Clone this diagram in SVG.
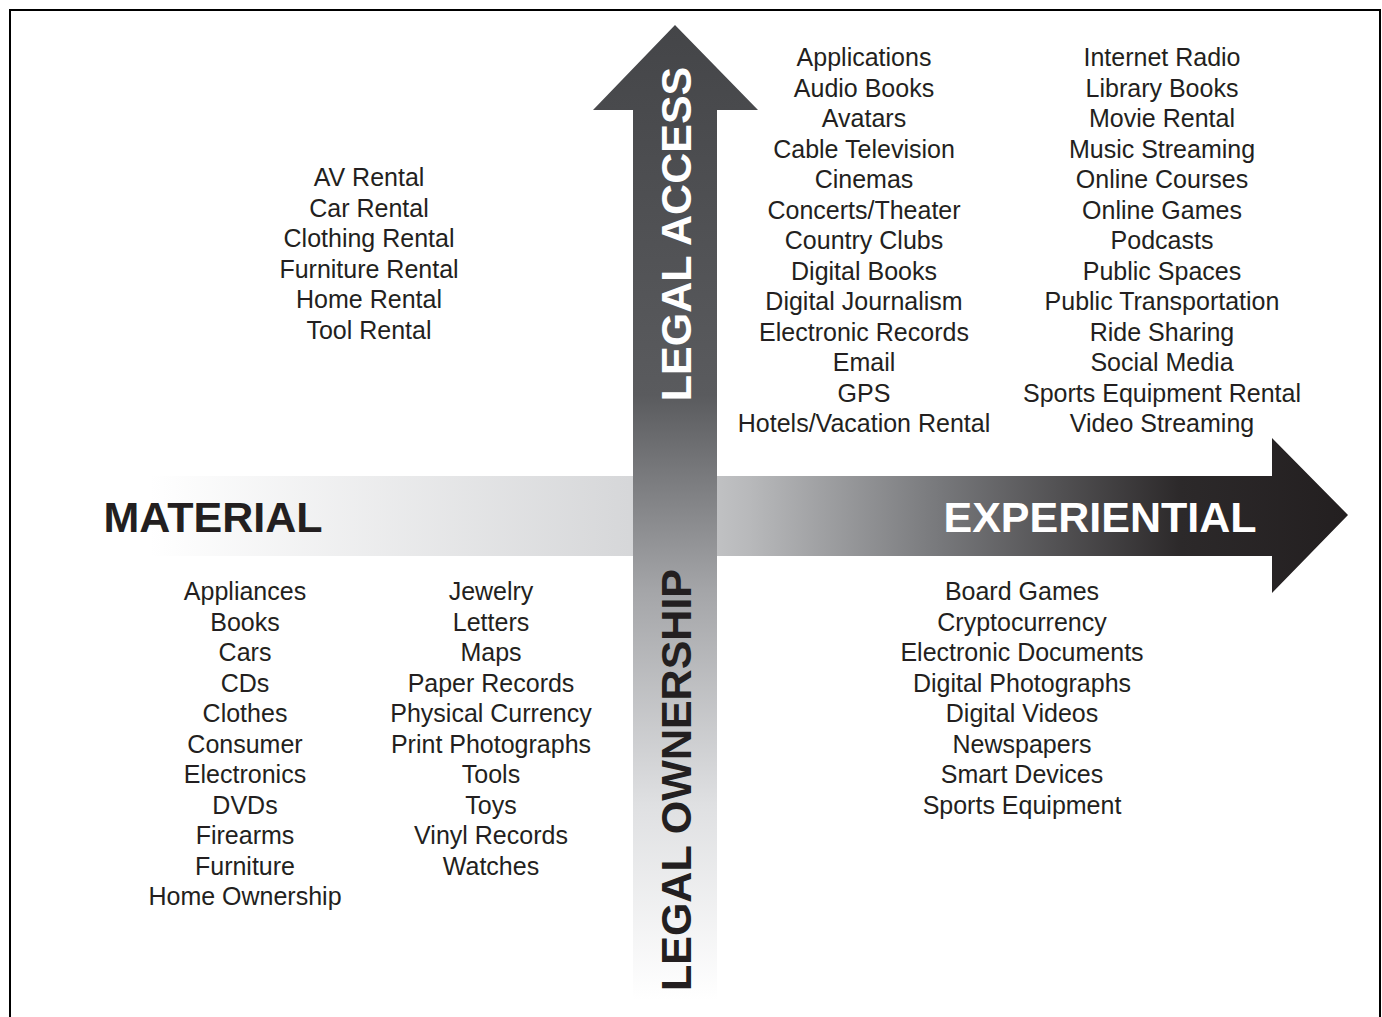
<svg xmlns="http://www.w3.org/2000/svg" width="1382" height="1017" viewBox="0 0 1382 1017">
<style>
.t{font-family:"Liberation Sans",Arial,sans-serif;font-size:25px;fill:#231f20;text-anchor:middle}
.b{font-family:"Liberation Sans",Arial,sans-serif;font-size:43px;font-weight:bold;text-anchor:middle}
</style>
<defs>
<linearGradient id="gh" x1="150" y1="0" x2="1348" y2="0" gradientUnits="userSpaceOnUse">
<stop offset="0" stop-color="#ffffff"/>
<stop offset="0.4" stop-color="#d6d7d9"/>
<stop offset="0.5" stop-color="#b8b9bb"/>
<stop offset="0.66" stop-color="#77787b"/>
<stop offset="0.86" stop-color="#2c292a"/>
<stop offset="1" stop-color="#231f20"/>
</linearGradient>
<linearGradient id="gv" x1="0" y1="25" x2="0" y2="1000" gradientUnits="userSpaceOnUse">
<stop offset="0" stop-color="#444548"/>
<stop offset="0.38" stop-color="#5a5b5e"/>
<stop offset="0.47" stop-color="#7c7d80"/>
<stop offset="0.58" stop-color="#a4a5a8"/>
<stop offset="0.8" stop-color="#dfe0e2"/>
<stop offset="1" stop-color="#ffffff"/>
</linearGradient>
</defs>
<rect x="10" y="10" width="1370" height="1020" fill="#fff" stroke="#000" stroke-width="2"/>
<g id="connectors">
<polygon id="axis-h" points="150,476 1272,476 1272,438 1348,515 1272,593 1272,556 150,556" fill="url(#gh)"/>
<polygon id="axis-v" points="675,25 758,110 717,110 717,1000 633,1000 633,110 593,110" fill="url(#gv)"/>
</g>
<g id="label-material"><text class="b" x="213" y="532" fill="#231f20">MATERIAL</text></g>
<g id="label-experiential"><text class="b" x="1100" y="532" fill="#ffffff">EXPERIENTIAL</text></g>
<g id="label-access"><text class="b" transform="translate(691,234) rotate(-90)" x="0" y="0" fill="#ffffff">LEGAL ACCESS</text></g>
<g id="label-ownership"><text class="b" transform="translate(691,780) rotate(-90)" x="0" y="0" fill="#231f20">LEGAL OWNERSHIP</text></g>
<g id="access-material">
<text class="t" x="369" y="186">AV Rental</text>
<text class="t" x="369" y="216.5">Car Rental</text>
<text class="t" x="369" y="247">Clothing Rental</text>
<text class="t" x="369" y="277.5">Furniture Rental</text>
<text class="t" x="369" y="308">Home Rental</text>
<text class="t" x="369" y="338.5">Tool Rental</text>
</g>
<g id="access-experiential-1">
<text class="t" x="864" y="66">Applications</text>
<text class="t" x="864" y="96.5">Audio Books</text>
<text class="t" x="864" y="127">Avatars</text>
<text class="t" x="864" y="157.5">Cable Television</text>
<text class="t" x="864" y="188">Cinemas</text>
<text class="t" x="864" y="218.5">Concerts/Theater</text>
<text class="t" x="864" y="249">Country Clubs</text>
<text class="t" x="864" y="279.5">Digital Books</text>
<text class="t" x="864" y="310">Digital Journalism</text>
<text class="t" x="864" y="340.5">Electronic Records</text>
<text class="t" x="864" y="371">Email</text>
<text class="t" x="864" y="401.5">GPS</text>
<text class="t" x="864" y="432">Hotels/Vacation Rental</text>
</g>
<g id="access-experiential-2">
<text class="t" x="1162" y="66">Internet Radio</text>
<text class="t" x="1162" y="96.5">Library Books</text>
<text class="t" x="1162" y="127">Movie Rental</text>
<text class="t" x="1162" y="157.5">Music Streaming</text>
<text class="t" x="1162" y="188">Online Courses</text>
<text class="t" x="1162" y="218.5">Online Games</text>
<text class="t" x="1162" y="249">Podcasts</text>
<text class="t" x="1162" y="279.5">Public Spaces</text>
<text class="t" x="1162" y="310">Public Transportation</text>
<text class="t" x="1162" y="340.5">Ride Sharing</text>
<text class="t" x="1162" y="371">Social Media</text>
<text class="t" x="1162" y="401.5">Sports Equipment Rental</text>
<text class="t" x="1162" y="432">Video Streaming</text>
</g>
<g id="ownership-material-1">
<text class="t" x="245" y="600">Appliances</text>
<text class="t" x="245" y="630.5">Books</text>
<text class="t" x="245" y="661">Cars</text>
<text class="t" x="245" y="691.5">CDs</text>
<text class="t" x="245" y="722">Clothes</text>
<text class="t" x="245" y="752.5">Consumer</text>
<text class="t" x="245" y="783">Electronics</text>
<text class="t" x="245" y="813.5">DVDs</text>
<text class="t" x="245" y="844">Firearms</text>
<text class="t" x="245" y="874.5">Furniture</text>
<text class="t" x="245" y="905">Home Ownership</text>
</g>
<g id="ownership-material-2">
<text class="t" x="491" y="600">Jewelry</text>
<text class="t" x="491" y="630.5">Letters</text>
<text class="t" x="491" y="661">Maps</text>
<text class="t" x="491" y="691.5">Paper Records</text>
<text class="t" x="491" y="722">Physical Currency</text>
<text class="t" x="491" y="752.5">Print Photographs</text>
<text class="t" x="491" y="783">Tools</text>
<text class="t" x="491" y="813.5">Toys</text>
<text class="t" x="491" y="844">Vinyl Records</text>
<text class="t" x="491" y="874.5">Watches</text>
</g>
<g id="ownership-experiential">
<text class="t" x="1022" y="600">Board Games</text>
<text class="t" x="1022" y="630.5">Cryptocurrency</text>
<text class="t" x="1022" y="661">Electronic Documents</text>
<text class="t" x="1022" y="691.5">Digital Photographs</text>
<text class="t" x="1022" y="722">Digital Videos</text>
<text class="t" x="1022" y="752.5">Newspapers</text>
<text class="t" x="1022" y="783">Smart Devices</text>
<text class="t" x="1022" y="813.5">Sports Equipment</text>
</g>
</svg>
